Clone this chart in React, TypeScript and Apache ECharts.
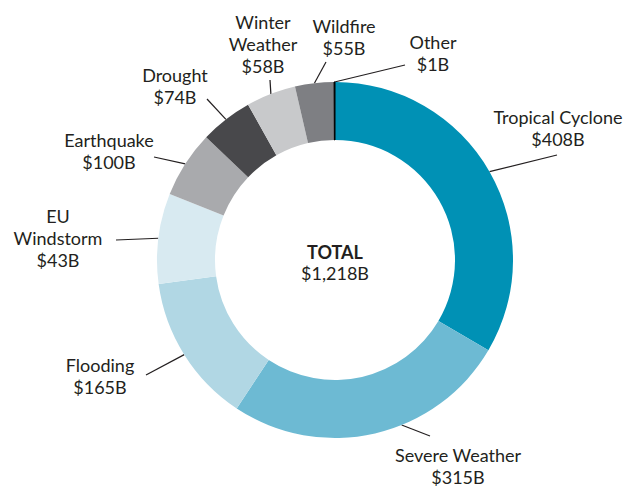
import React, { useEffect, useRef } from "react";
import * as echarts from "echarts";

// Categories in the order they appear clockwise from 12 o'clock
const categories = [
  "Tropical Cyclone",
  "Severe Weather",
  "Flooding",
  "EU Windstorm",
  "Earthquake",
  "Drought",
  "Winter Weather",
  "Wildfire",
  "Other",
];
// Label text (line breaks as in the reference)
const labelNames = [
  "Tropical Cyclone",
  "Severe Weather",
  "Flooding",
  "EU\nWindstorm",
  "Earthquake",
  "Drought",
  "Winter\nWeather",
  "Wildfire",
  "Other",
];
// Loss values shown in the labels ($B)
const lossValues = [408, 315, 165, 43, 100, 74, 58, 55, 1];
// Slice sizes as drawn in the reference ring (measured from the arcs, $B)
const sliceValues = [408, 315, 165, 100, 74, 58, 55, 43, 1];
const totalTitle = "TOTAL";
const totalValue = "$1,218B";

const colors = [
  "#0091b5",
  "#6dbad3",
  "#b1d7e4",
  "#d8eaf1",
  "#a9aaad",
  "#48484b",
  "#c8c9cb",
  "#7e7f83",
  "#000000",
];

const FONT = "Lato, 'Open Sans', sans-serif";
const TEXT = "#231f20";
const CX = 335;
const CY = 260;
const R_IN = 120;
const R_OUT = 178;

// label block centre, leader line end, optional anchor angle (deg clockwise from top)
const LABEL_LAYOUT: { x: number; y: number; end: number[]; angle?: number }[] = [
  { x: 558, y: 128, end: [557, 155] },
  { x: 458, y: 466, end: [430, 436], angle: 158 },
  { x: 100, y: 376, end: [146, 375] },
  { x: 58, y: 238, end: [116, 240] },
  { x: 109, y: 151, end: [154, 157] },
  { x: 175, y: 86, end: [207, 99] },
  { x: 263, y: 44, end: [270, 80] },
  { x: 344, y: 37, end: [326, 62] },
  { x: 433, y: 53, end: [405, 65] },
];

export default function App() {
  const ref = useRef<HTMLDivElement>(null);
  useEffect(() => {
    if (!ref.current) return;
    const chart = echarts.init(ref.current, null, { renderer: "svg" });
    chart.setOption({
      animation: false,
      backgroundColor: "#ffffff",
      graphic: [
        {
          type: "text",
          x: CX,
          y: 252,
          silent: true,
          style: {
            text: totalTitle,
            fontFamily: FONT,
            fontSize: 18,
            fontWeight: "bold",
            fill: TEXT,
            align: "center",
            verticalAlign: "middle",
          },
        },
        {
          type: "text",
          x: CX,
          y: 273,
          silent: true,
          style: {
            text: totalValue,
            fontFamily: FONT,
            fontSize: 18,
            fill: TEXT,
            align: "center",
            verticalAlign: "middle",
          },
        },
      ],
      series: [
        {
          type: "pie",
          center: [CX, CY],
          radius: [R_IN, R_OUT],
          startAngle: 90,
          clockwise: true,
          silent: true,
          avoidLabelOverlap: false,
          emphasis: { disabled: true },
          data: categories.map((c, i) => ({
            name: c,
            value: sliceValues[i],
            itemStyle:
              c === "Other"
                ? { color: colors[i], borderColor: colors[i], borderWidth: 1 }
                : { color: colors[i], borderWidth: 0 },
          })),
          label: {
            show: true,
            position: "outside",
            formatter: (p: any) =>
              labelNames[p.dataIndex] + "\n$" + lossValues[p.dataIndex] + "B",
            fontFamily: FONT,
            fontSize: 18,
            lineHeight: 22,
            color: TEXT,
            align: "center",
          },
          labelLine: {
            show: true,
            length: 10,
            length2: 10,
            lineStyle: { color: TEXT, width: 1.2 },
          },
          labelLayout: (params: any) => {
            const L = LABEL_LAYOUT[params.dataIndex];
            let start: number[];
            if (L.angle != null || !params.labelLinePoints) {
              let a = L.angle;
              if (a == null) a = 0;
              const rad = (a * Math.PI) / 180;
              start = [CX + R_OUT * Math.sin(rad), CY - R_OUT * Math.cos(rad)];
            } else {
              start = params.labelLinePoints[0];
            }
            return {
              x: L.x,
              y: L.y,
              align: "center",
              verticalAlign: "middle",
              labelLinePoints: [start, L.end],
            };
          },
        },
      ],
    });
    return () => chart.dispose();
  }, []);
  return (
    <div
      ref={ref}
      style={{ position: "fixed", left: 0, top: 0, width: 626, height: 487 }}
    />
  );
}
